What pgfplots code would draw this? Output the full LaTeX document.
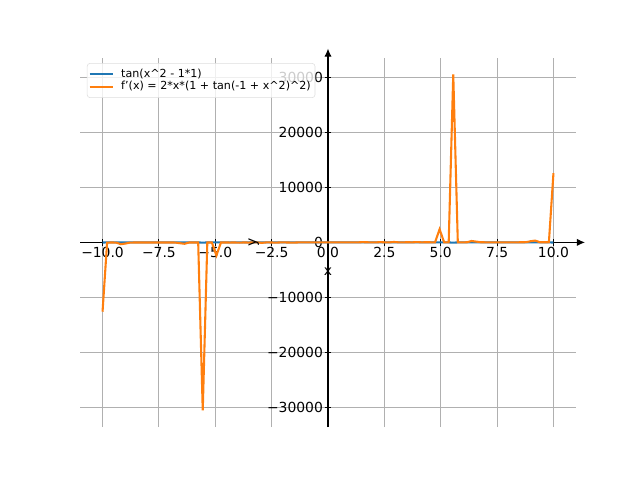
\documentclass[border=0pt]{standalone}
\usepackage{pgfplots}
\pgfplotsset{compat=1.18}
\usepackage{pgfplotstable}
\usepackage{fontspec}
\setmainfont{DejaVu Sans}
\usetikzlibrary{arrows.meta}
\definecolor{c0}{HTML}{1F77B4}
\definecolor{c1}{HTML}{FF7F0E}
\definecolor{gridc}{HTML}{B0B0B0}
\definecolor{legc}{HTML}{DDDDDD}

\pgfplotstableread{
x t d
-10 -25.092 -12612
-9.7980 0.9365 -36.78
-9.5960 -0.0238 -19.20
-9.3939 -0.8744 -33.15
-9.1919 -4.1010 -327.6
-8.9899 3.3228 -216.5
-8.7879 1.0903 -38.47
-8.5859 0.4959 -21.39
-8.3838 0.1755 -17.28
-8.1818 -0.0313 -16.38
-7.9798 -0.1559 -16.35
-7.7778 -0.1990 -16.17
-7.5758 -0.1579 -15.53
-7.3737 -0.0351 -14.77
-7.1717 0.1697 -14.76
-6.9697 0.4865 -17.24
-6.7677 1.0699 -29.03
-6.5657 3.1914 -146.9
-6.3636 -4.3499 -253.6
-6.1616 -0.9014 -22.34
-5.9596 -0.0408 -11.94
-5.7576 0.9017 -20.88
-5.5556 -52.44 -30565
-5.3535 -0.7049 -16.03
-5.1515 0.4291 -12.20
-4.9495 15.4959 -2386.9
-4.7475 -0.4863 -11.74
-4.5455 1.0538 -19.19
-4.3434 -1.5044 -28.35
-4.1414 0.4749 -10.15
-3.9394 -2.4917 -56.80
-3.7374 0.4247 -8.823
-3.5354 -1.8169 -30.41
-3.3333 0.8192 -11.14
-3.1313 -0.7134 -9.450
-2.9293 3.5685 -80.46
-2.7273 0.1561 -5.587
-2.5253 -1.2764 -13.28
-2.3232 3.0691 -48.41
-2.1212 0.3741 -4.836
-1.9192 -0.4930 -4.772
-1.7172 -2.5192 -25.23
-1.5152 3.5428 -41.07
-1.3131 0.8847 -4.682
-1.1111 0.2390 -2.349
-0.9091 -0.1753 -1.874
-0.7071 -0.5464 -1.836
-0.5051 -0.9221 -1.869
-0.3030 -1.2813 -1.601
-0.1010 -1.5225 -0.670
0.1010 -1.5225 0.670
0.3030 -1.2813 1.601
0.5051 -0.9221 1.869
0.7071 -0.5464 1.836
0.9091 -0.1753 1.874
1.1111 0.2390 2.349
1.3131 0.8847 4.682
1.5152 3.5428 41.07
1.7172 -2.5192 25.23
1.9192 -0.4930 4.772
2.1212 0.3741 4.836
2.3232 3.0691 48.41
2.5253 -1.2764 13.28
2.7273 0.1561 5.587
2.9293 3.5685 80.46
3.1313 -0.7134 9.450
3.3333 0.8192 11.14
3.5354 -1.8169 30.41
3.7374 0.4247 8.823
3.9394 -2.4917 56.80
4.1414 0.4749 10.15
4.3434 -1.5044 28.35
4.5455 1.0538 19.19
4.7475 -0.4863 11.74
4.9495 15.4959 2386.9
5.1515 0.4291 12.20
5.3535 -0.7049 16.03
5.5556 -52.44 30565
5.7576 0.9017 20.88
5.9596 -0.0408 11.94
6.1616 -0.9014 22.34
6.3636 -4.3499 253.6
6.5657 3.1914 146.9
6.7677 1.0699 29.03
6.9697 0.4865 17.24
7.1717 0.1697 14.76
7.3737 -0.0351 14.77
7.5758 -0.1579 15.53
7.7778 -0.1990 16.17
7.9798 -0.1559 16.35
8.1818 -0.0313 16.38
8.3838 0.1755 17.28
8.5859 0.4959 21.39
8.7879 1.0903 38.47
8.9899 3.3228 216.5
9.1919 -4.1010 327.6
9.3939 -0.8744 33.15
9.5960 -0.0238 19.20
9.7980 0.9365 36.78
10 -25.092 12612
}\datatable

\begin{document}
\begin{tikzpicture}
\begin{axis}[
  name=ax,
  scale only axis, width=4.96in, height=3.696in,
  xmin=-11, xmax=11, ymin=-33621.5, ymax=33621.5,
  scaled y ticks=false,
  axis lines=middle,
  axis line style={line width=0.8bp, -{Latex[length=5.8bp,width=5.2bp]}, shorten >=-6.5bp},
  hide obscured x ticks=false, hide obscured y ticks=false,
  xtick={-10,-7.5,-5,-2.5,0,2.5,5,7.5,10},
  xticklabels={−10.0,−7.5,−5.0,−2.5,0.0,2.5,5.0,7.5,10.0},
  ytick={-30000,-20000,-10000,0,10000,20000,30000},
  yticklabels={−30000,−20000,−10000,0,10000,20000,30000},
  tick align=center, major tick length=5bp,
  tick style={line width=0.8bp, black},
  tick label style={font=\fontsize{10bp}{12bp}\selectfont},
  xticklabel style={inner sep=0pt, anchor=north, yshift=-1bp},
  yticklabel style={inner sep=0pt, anchor=east, xshift=-1bp},
  grid=major, grid style={line width=0.8bp, gridc},
  xlabel={x}, ylabel={y},
  xlabel style={at={(axis description cs:0.5,0.5)}, anchor=center, yshift=-21bp, font=\fontsize{10bp}{12bp}\selectfont},
  ylabel style={at={(axis description cs:0.5,0.5)}, anchor=center, rotate=90, yshift=53.5bp, font=\fontsize{10bp}{12bp}\selectfont},
  legend style={at={(axis description cs:0,1)}, anchor=north west, xshift=5bp, yshift=-4bp,
    draw=legc, rounded corners=2bp, fill=white, fill opacity=0.8, text opacity=1,
    font=\fontsize{8bp}{10bp}\selectfont, inner xsep=1bp, inner ysep=2bp, row sep=-2.5bp,
    /tikz/every odd column/.append style={column sep=3bp}},
  legend cell align=left,
  legend image code/.code={\draw[#1] (0bp,0bp) -- (17bp,0bp);},
]
\addplot[c0, line width=1.5bp] table[x=x, y=t] {\datatable};
\addlegendentry{tan(x\^{}2 - 1*1)}
\addplot[c1, line width=1.5bp] table[x=x, y=d] {\datatable};
\addlegendentry{f'(x) = 2*x*(1 + tan(-1 + x\^{}2)\^{}2)\hspace{2bp}}
\end{axis}
\path (ax.south west) ++(-0.8in,-0.528in) rectangle ++(6.4in,4.8in);
\end{tikzpicture}
\end{document}
